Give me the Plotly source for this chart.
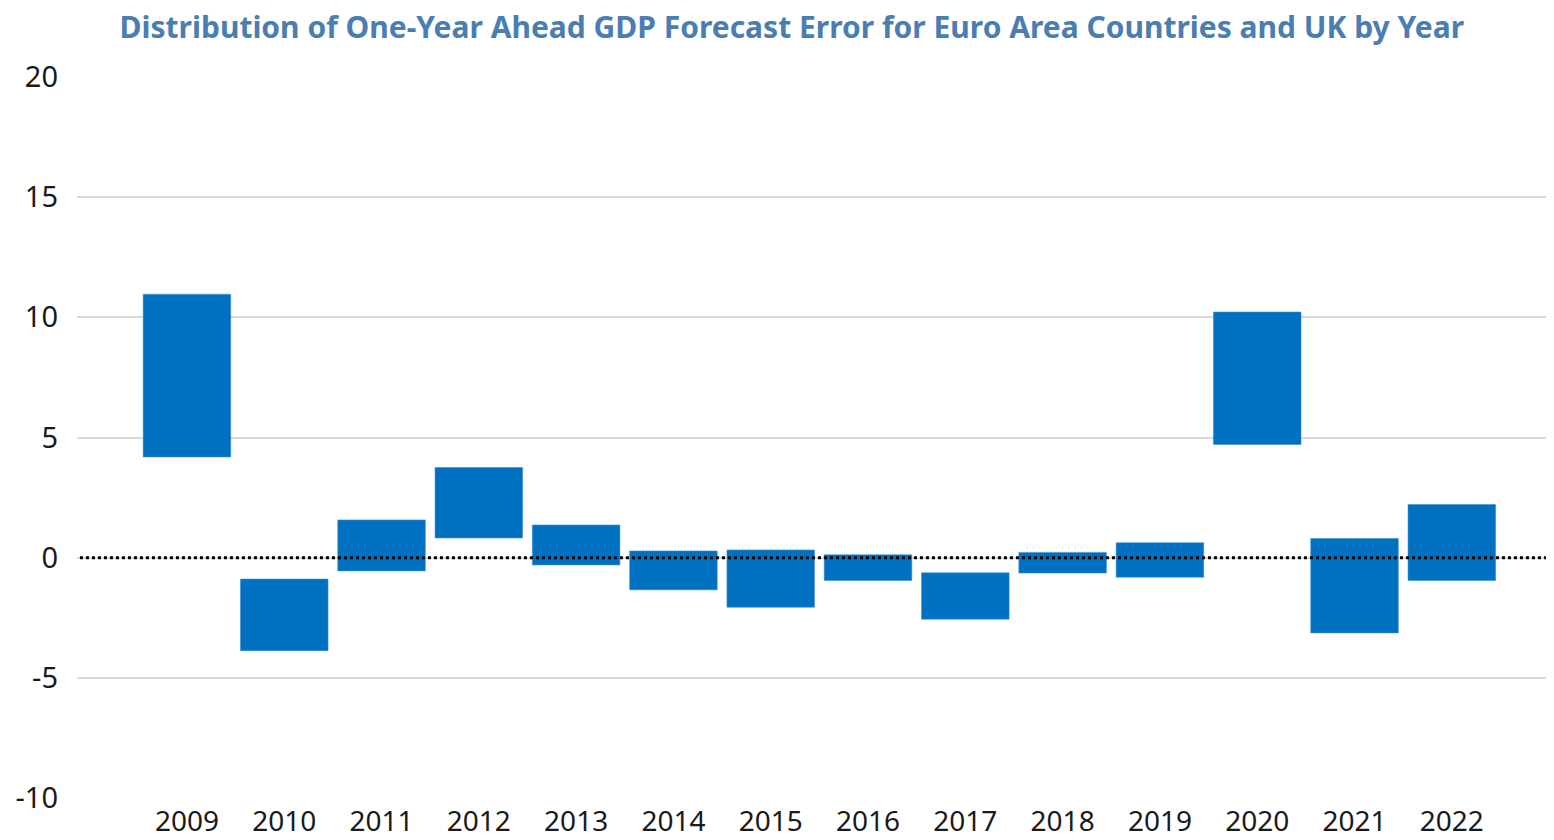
import plotly.graph_objects as go

# range of one-year-ahead GDP forecast errors, per year (low / high)
years = ["2009", "2010", "2011", "2012", "2013", "2014", "2015",
         "2016", "2017", "2018", "2019", "2020", "2021", "2022"]
low = [4.19, -3.87, -0.55, 0.82, -0.30, -1.34, -2.06,
       -0.95, -2.56, -0.64, -0.81, 4.71, -3.13, -0.95]
high = [10.96, -0.89, 1.57, 3.75, 1.36, 0.28, 0.32,
        0.12, -0.63, 0.22, 0.62, 10.22, 0.80, 2.21]

y_ticks = [-10, -5, 0, 5, 10, 15, 20]
y_ticklabels = ["-10", "-5", "0", "5", "10", "15", "20"]

spans = [h - l for h, l in zip(high, low)]

fig = go.Figure()
fig.add_trace(go.Bar(
    x=list(range(len(years))),
    y=spans,
    base=low,
    width=0.9,
    marker=dict(color="#0070c0", line=dict(color="#3d8fd1", width=0.6)),
    hovertemplate="%{customdata}<extra></extra>",
    customdata=years,
))

# dotted zero line
fig.add_shape(type="line", xref="paper", yref="y", x0=0.002, x1=1, y0=0, y1=0,
              line=dict(color="black", width=3, dash="dot"), layer="above")

# page body has an 8px margin, so the figure is sized/offset to compensate
fig.update_layout(
    width=1546, height=832,
    margin=dict(l=69, r=1, t=69, b=40),
    plot_bgcolor="white", paper_bgcolor="white",
    showlegend=False,
    title=dict(
        text="<b>Distribution of One-Year Ahead GDP Forecast Error for Euro Area Countries and UK by Year</b>",
        x=0.507, xanchor="center", y=0.976, yref="container", yanchor="middle",
        font=dict(family="Noto Sans", size=30, color="#4a7eb2"),
    ),
    font=dict(family="Noto Sans", size=28, color="#1a1a1a"),
    xaxis=dict(
        range=[-1.13, 14.04],
        tickmode="array",
        tickvals=list(range(len(years))),
        ticktext=years,
        showgrid=False, zeroline=False, showline=False,
        ticks="", ticklabelstandoff=4,
        tickfont=dict(size=28, color="#1a1a1a"),
    ),
    yaxis=dict(
        range=[-10, 20],
        tickmode="array",
        tickvals=y_ticks,
        ticktext=y_ticklabels,
        showgrid=True, gridcolor="#d9d9d9", gridwidth=1.5,
        zeroline=False, showline=False,
        ticks="", ticklabelstandoff=18,
        tickfont=dict(size=29, color="#1a1a1a"),
    ),
)

fig.write_html("out.html")
